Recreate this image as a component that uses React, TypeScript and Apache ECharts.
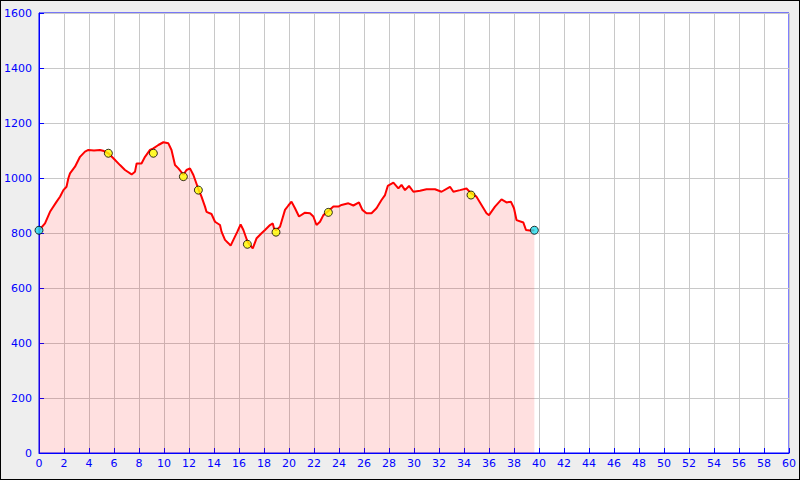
import React, { useEffect, useRef } from "react";
import * as echarts from "echarts";

const distances = [
  0, 0.48, 0.88, 1.41, 1.68, 1.95, 2.2, 2.35, 2.48, 2.88, 3.28, 3.68, 3.95, 4.4, 4.88, 5.2, 5.55, 5.95,
  6.48, 6.88, 7.41, 7.68, 7.81, 8.2, 8.48, 8.88, 9.15, 9.55, 9.95, 10.35, 10.6, 10.88, 11.15, 11.55,
  11.8, 12.08, 12.35, 12.75, 13.0, 13.28, 13.4, 13.8, 14.08, 14.48, 14.6, 14.88, 15.15, 15.33, 15.55,
  15.87, 16.13, 16.35, 16.67, 16.88, 17.1, 17.41, 17.8, 18.08, 18.48, 18.7, 18.8, 18.96, 19.28, 19.68,
  19.95, 20.2, 20.48, 20.8, 21.28, 21.68, 21.95, 22.2, 22.48, 22.75, 23.15, 23.55, 23.95, 24.2, 24.75,
  25.15, 25.6, 25.87, 26.2, 26.6, 27.0, 27.4, 27.68, 27.9, 28.35, 28.75, 29.0, 29.28, 29.6, 29.95,
  30.48, 31.0, 31.68, 32.2, 32.88, 33.15, 33.68, 34.2, 34.56, 35.0, 35.4, 35.8, 36.0, 36.48, 37.0,
  37.4, 37.75, 38.0, 38.2, 38.75, 38.96, 39.28, 39.63,
];
const elevations = [
  810, 835, 877, 914, 932, 956, 968, 999, 1017, 1041, 1077, 1096, 1102, 1100, 1102, 1098, 1090, 1072,
  1047, 1029, 1013, 1023, 1053, 1053, 1077, 1102, 1108, 1120, 1130, 1126, 1102, 1047, 1035, 1012,
  1029, 1035, 1011, 960, 932, 896, 877, 869, 841, 829, 805, 775, 763, 754, 775,
  805, 831, 811, 770, 756, 744, 781, 799, 811, 829, 835, 817, 810, 823, 884,
  900, 914, 890, 860, 874, 872, 860, 829, 841, 865, 880, 896, 896, 902, 908,
  900, 911, 884, 872, 872, 890, 920, 938, 971, 983, 962, 975, 956, 971, 950,
  954, 959, 959, 950, 968, 950, 956, 962, 945, 932, 902, 872, 865, 896, 922,
  911, 914, 890, 847, 838, 811, 809, 810,
];

const waypointDist = [5.55, 9.15, 11.55, 12.75, 16.67, 18.96, 23.15, 34.56];
const waypointElev = [1090, 1090, 1005, 956, 759, 803, 875, 938];
const endpointDist = [0, 39.63];
const endpointElev = [810, 810];

export default function App() {
  const ref = useRef<HTMLDivElement>(null);
  useEffect(() => {
    if (!ref.current) return;
    const chart = echarts.init(ref.current, undefined, { renderer: "svg" });
    const blue = "#0000ff";
    chart.setOption({
      animation: false,
      backgroundColor: "#eeeeee",
      grid: {
        left: 38,
        top: 12,
        right: 10,
        bottom: 26,
        containLabel: false,
        outerBoundsMode: "none",
        show: true,
        backgroundColor: "#ffffff",
        borderColor: blue,
        borderWidth: 1,
      },
      xAxis: {
        type: "value",
        min: 0,
        max: 60,
        interval: 2,
        axisLine: { show: true, onZero: false, lineStyle: { color: blue, width: 1 } },
        axisTick: { show: true, inside: true, length: 5, lineStyle: { color: blue } },
        axisLabel: { color: blue, fontSize: 11, fontFamily: "DejaVu Sans", margin: 5, formatter: (v: number) => String(v) },
        splitLine: { show: true, lineStyle: { color: "#c8c8c8", width: 1 } },
      },
      yAxis: {
        type: "value",
        min: 0,
        max: 1600,
        interval: 200,
        axisLine: { show: true, onZero: false, lineStyle: { color: blue, width: 1 } },
        axisTick: { show: true, inside: true, length: 5, lineStyle: { color: blue } },
        axisLabel: { color: blue, fontSize: 11, fontFamily: "DejaVu Sans", margin: 7, formatter: (v: number) => String(v) },
        splitLine: { show: true, lineStyle: { color: "#c8c8c8", width: 1 } },
      },
      series: [
        {
          type: "line",
          data: distances.map((d, i) => [d, elevations[i]]),
          showSymbol: false,
          symbol: "none",
          lineStyle: { color: "#ff0000", width: 2 },
          areaStyle: { color: "rgba(255,0,0,0.12)", opacity: 1, origin: "start" },
          z: 2,
        },
        {
          type: "scatter",
          data: waypointDist.map((d, i) => [d, waypointElev[i]]),
          symbol: "circle",
          symbolSize: 8,
          itemStyle: { color: "#ffff00", borderColor: "#000000", borderWidth: 1 },
          z: 3,
        },
        {
          type: "scatter",
          data: endpointDist.map((d, i) => [d, endpointElev[i]]),
          symbol: "circle",
          symbolSize: 8,
          itemStyle: { color: "#22ddee", borderColor: "#000000", borderWidth: 1 },
          z: 3,
        },
      ],
    });
    return () => chart.dispose();
  }, []);
  return (
    <div
      style={{
        position: "fixed",
        left: 0,
        top: 0,
        width: 800,
        height: 480,
        boxSizing: "border-box",
        border: "1px solid #000",
        background: "#eeeeee",
      }}
    >
      <div ref={ref} style={{ width: 798, height: 478 }} />
    </div>
  );
}
